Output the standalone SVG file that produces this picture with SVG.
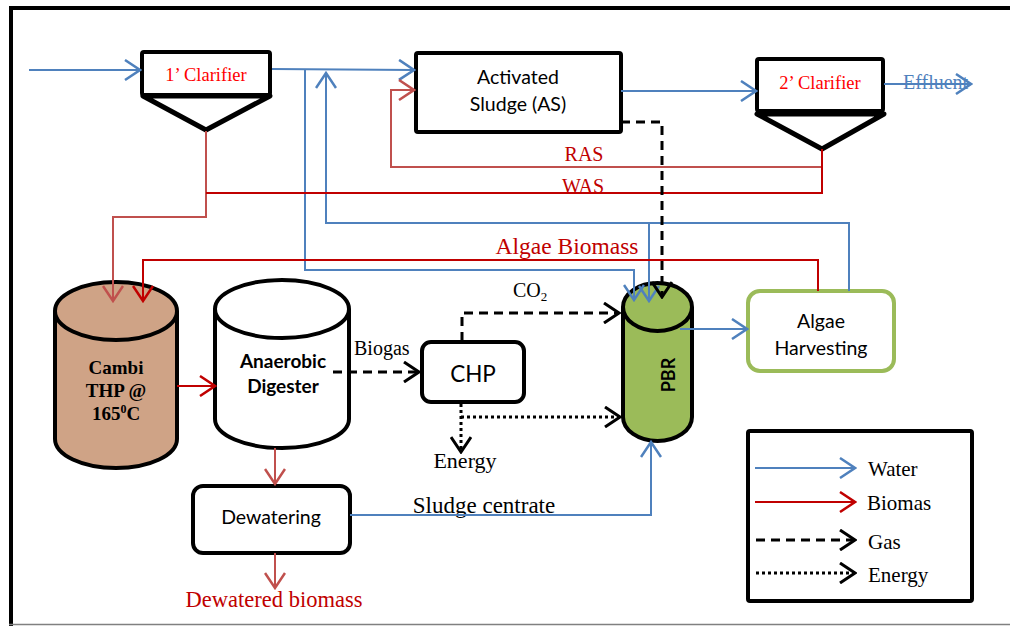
<svg xmlns="http://www.w3.org/2000/svg" width="1010" height="626" viewBox="0 0 1010 626">
<style>
.blue{stroke:#4f81bd;stroke-width:2;fill:none}
.redl{stroke:#c0504d;stroke-width:2;fill:none}
.redd{stroke:#c00000;stroke-width:2;fill:none}
.gas{stroke:#000;stroke-width:3;fill:none;stroke-dasharray:9,6}
.energy{stroke:#000;stroke-width:3;fill:none;stroke-dasharray:3,3}
.box{fill:#fff;stroke:#000;stroke-width:4}
.serif{font-family:"Liberation Serif","Times New Roman",serif}
.sans{font-family:Lato,"Open Sans","Liberation Sans",sans-serif}
</style>
<defs>
<marker id="aB" viewBox="0 0 18 22" refX="16" refY="11" markerWidth="18" markerHeight="22" markerUnits="userSpaceOnUse" orient="auto"><path d="M1,1 L16,11 L1,21" fill="none" stroke="#4f81bd" stroke-width="2.5"/></marker>
<marker id="aRl" viewBox="0 0 18 22" refX="16" refY="11" markerWidth="18" markerHeight="22" markerUnits="userSpaceOnUse" orient="auto"><path d="M1,1 L16,11 L1,21" fill="none" stroke="#c0504d" stroke-width="2.5"/></marker>
<marker id="aRd" viewBox="0 0 18 22" refX="16" refY="11" markerWidth="18" markerHeight="22" markerUnits="userSpaceOnUse" orient="auto"><path d="M1,1 L16,11 L1,21" fill="none" stroke="#c00000" stroke-width="2.5"/></marker>
<marker id="aK" viewBox="0 0 18 22" refX="16" refY="11" markerWidth="18" markerHeight="22" markerUnits="userSpaceOnUse" orient="auto"><path d="M1,1 L16,11 L1,21" fill="none" stroke="#000" stroke-width="3"/></marker>
</defs>
<rect width="1010" height="626" fill="#fff"/>
<g id="frame">
<line x1="9" y1="8" x2="1010" y2="8" stroke="#000" stroke-width="4"/>
<line x1="11" y1="6" x2="11" y2="626" stroke="#000" stroke-width="4"/>
<line x1="9" y1="624.5" x2="1010" y2="624.5" stroke="#808080" stroke-width="1.5"/>
</g>
<g id="clarifier1">
<rect class="box" x="142" y="52" width="128" height="43" rx="2"/>
<polygon points="143,96 270,96 206,130" fill="#fff" stroke="#000" stroke-width="5" stroke-linejoin="round"/>
<text class="serif" x="206" y="81" font-size="18.5" fill="#ff0000" text-anchor="middle">1’ Clarifier</text>
</g>
<g id="activated-sludge">
<rect class="box" x="416" y="53" width="205" height="79" rx="2"/>
<text class="sans" x="518" y="84" font-size="19.5" text-anchor="middle">Activated</text>
<text class="sans" x="518" y="111" font-size="19.5" text-anchor="middle">Sludge (AS)</text>
</g>
<g id="clarifier2">
<rect class="box" x="757" y="59" width="126" height="52" rx="2"/>
<polygon points="757,114 884,114 822,149" fill="#fff" stroke="#000" stroke-width="5" stroke-linejoin="round"/>
<text class="serif" x="820" y="89" font-size="18.5" fill="#ff0000" text-anchor="middle">2’ Clarifier</text>
</g>
<g id="labels-top">
<text class="serif" x="903" y="89" font-size="20" fill="#4f81bd">Effluent</text>
<text class="serif" x="584" y="161" font-size="20" fill="#c00000" text-anchor="middle">RAS</text>
<text class="serif" x="583" y="193" font-size="20" fill="#c00000" text-anchor="middle">WAS</text>
<text class="serif" x="567" y="254" font-size="23.5" fill="#c00000" text-anchor="middle">Algae Biomass</text>
</g>
<g id="cambi">
<path d="M55,311 L55,439 A61,29 0 0 0 177,439 L177,311" fill="#cfa386" stroke="#000" stroke-width="4"/>
<ellipse cx="116" cy="311" rx="61" ry="29" fill="#cfa386" stroke="#000" stroke-width="4"/>
<g class="serif" font-size="19" font-weight="bold" text-anchor="middle">
<text x="116" y="374">Cambi</text>
<text x="116" y="397">THP @</text>
<text x="116" y="420">165<tspan font-size="12" dy="-7">0</tspan><tspan dy="7">C</tspan></text>
</g>
</g>
<g id="digester">
<path d="M215,309 L215,419 A67,29 0 0 0 349,419 L349,309" fill="#fff" stroke="#000" stroke-width="4"/>
<ellipse cx="282" cy="309" rx="67" ry="29" fill="#fff" stroke="#000" stroke-width="4"/>
<text class="sans" x="283" y="368" font-size="19" font-weight="bold" text-anchor="middle">Anaerobic</text>
<text class="sans" x="283" y="393" font-size="19" font-weight="bold" text-anchor="middle">Digester</text>
</g>
<text class="serif" x="354" y="355" font-size="20">Biogas</text>
<g id="chp">
<rect class="box" x="422" y="342" width="102" height="60" rx="9"/>
<text class="sans" x="473" y="382" font-size="22.5" text-anchor="middle">CHP</text>
</g>
<text class="serif" x="513" y="297" font-size="20">CO<tspan font-size="13" dy="4">2</tspan></text>
<text class="serif" x="465" y="468" font-size="22" text-anchor="middle">Energy</text>
<g id="pbr">
<path d="M623,307 L623,417 A34.5,24 0 0 0 692,417 L692,307" fill="#9bbb59" stroke="#000" stroke-width="4"/>
<ellipse cx="657.5" cy="307" rx="34.5" ry="24" fill="#9bbb59" stroke="#000" stroke-width="4"/>
<text class="sans" transform="translate(675,375) rotate(-90)" font-size="18" font-weight="bold" text-anchor="middle">PBR</text>
</g>
<g id="algae-harvesting">
<rect x="748" y="291" width="146" height="80" rx="12" fill="#fff" stroke="#9bbb59" stroke-width="4"/>
<text class="sans" x="821" y="328" font-size="19.5" text-anchor="middle">Algae</text>
<text class="sans" x="821" y="355" font-size="19.5" text-anchor="middle">Harvesting</text>
</g>
<g id="dewatering">
<rect class="box" x="193" y="486" width="157" height="67" rx="10"/>
<text class="sans" x="271" y="524" font-size="19.5" text-anchor="middle">Dewatering</text>
</g>
<text class="serif" x="484" y="513" font-size="23" text-anchor="middle">Sludge centrate</text>
<text class="serif" x="274" y="607" font-size="22.5" fill="#c00000" text-anchor="middle">Dewatered biomass</text>
<g id="connectors">
<path class="blue" d="M29,70 L140,70" marker-end="url(#aB)"/>
<path class="blue" d="M272,69 L414,70" marker-end="url(#aB)"/>
<path class="blue" d="M305,69 L305,270 L634,270 L634,300" marker-end="url(#aB)"/>
<path class="blue" d="M849,291 L849,223 L326,223 L326,73" marker-end="url(#aB)"/>
<path class="blue" d="M649,223 L649,301" marker-end="url(#aB)"/>
<path class="blue" d="M621,91 L756,91" marker-end="url(#aB)"/>
<path class="blue" d="M884,84 L971,84" marker-end="url(#aB)"/>
<path class="blue" d="M680,329 L747,329" marker-end="url(#aB)"/>
<path class="blue" d="M350,515 L651,515 L651,442" marker-end="url(#aB)"/>
<path class="redl" d="M206,131 L206,217 L113,217 L113,301" marker-end="url(#aRl)"/>
<path class="redl" d="M822,167 L391,167 L391,90 L414,90" marker-end="url(#aRl)"/>
<path class="redd" d="M822,149 L822,193 L206,193"/>
<path class="redd" d="M818,291 L818,260 L143,260 L143,301" marker-end="url(#aRd)"/>
<path class="redd" d="M177,386 L215,386" marker-end="url(#aRd)"/>
<path class="redl" d="M275,448 L275,484" marker-end="url(#aRl)"/>
<path class="redl" d="M275,553 L275,588" marker-end="url(#aRl)"/>
<path class="gas" d="M621,122 L662,122 L662,297" marker-end="url(#aK)"/>
<path class="gas" d="M333,372 L419,372" marker-end="url(#aK)"/>
<path class="gas" d="M462,341 L462,313 L619,313" marker-end="url(#aK)"/>
<path class="energy" d="M461,404 L461,452" marker-end="url(#aK)"/>
<path class="energy" d="M461,417 L620,417" marker-end="url(#aK)"/>
</g>
<g id="legend">
<rect class="box" x="748" y="431" width="224" height="170" rx="2"/>
<path class="blue" d="M755,468 L855,468" marker-end="url(#aB)"/>
<path class="redd" d="M755,502 L855,502" marker-end="url(#aRd)"/>
<path class="gas" d="M756,540 L855,540" marker-end="url(#aK)"/>
<path class="energy" d="M756,573 L855,573" marker-end="url(#aK)"/>
<g class="serif" font-size="21">
<text x="868" y="476">Water</text>
<text x="867" y="510">Biomas</text>
<text x="868" y="549">Gas</text>
<text x="868" y="582">Energy</text>
</g>
</g>
</svg>
